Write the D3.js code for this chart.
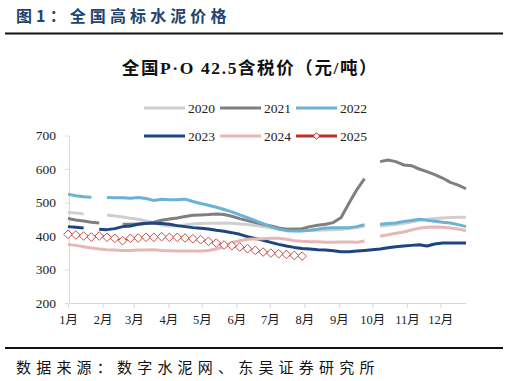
<!DOCTYPE html>
<html><head><meta charset="utf-8">
<script src="https://cdn.jsdelivr.net/npm/d3@7"></script>
<style>
html,body{margin:0;padding:0;background:#fff;}
svg{display:block;}
</style></head>
<body>
<svg id="c" width="509" height="381"></svg>
<script>
// ---- data ----
const months = ["1月","2月","3月","4月","5月","6月","7月","8月","9月","10月","11月","12月"];
const monthStartDays = [0,31,59,90,120,151,181,212,243,273,304,334];
const yTicks = [200,300,400,500,600,700];
const years = ["2020","2021","2022","2023","2024","2025"];
const s2020 = [470,469,466,null,null,463,460,457,453,450,445,440,433,430,430,433,436,437,438,438,439,438,436,434,431,428,424,422,420,418,417,417,417,418,419,420,422,425,430,null,430,432,434,438,442,447,450,452,454,455,456,456];
const s2021 = [452,448,445,441,439,null,null,435,435,436,437,441,447,451,454,458,462,463,464,466,464,459,452,446,440,435,430,424,420,421,422,428,432,435,440,455,498,538,571,null,622,627,622,612,610,600,592,583,573,560,552,541];
const s2022 = [525,520,517,516,null,515,514,514,513,515,512,506,510,508,508,510,503,497,492,486,479,472,463,455,446,437,428,420,416,415,415,417,420,424,425,425,425,428,434,null,435,437,439,443,446,450,447,444,441,439,434,428];
const s2023 = [428,426,424,null,420,419,422,428,430,435,438,438,437,435,431,428,425,423,421,417,414,410,405,398,393,387,381,375,370,366,363,361,359,358,356,353,353,355,357,359,361,365,368,370,372,374,370,376,379,379,379,379];
const s2024 = [375,372,368,364,361,359,358,357,357,358,358,359,357,356,355,355,355,355,357,361,368,380,386,390,391,392,393,393,390,386,384,383,383,381,381,382,382,381,385,null,399,404,408,412,418,423,426,427,426,424,421,416];
const s2025 = [405,403,400,397,400,396,393,386,393,394,396,396,398,396,396,394,392,389,384,379,373,371,367,362,357,352,349,347,345,342,340];
const seriesValues = [s2020,s2021,s2022,s2023,s2024,s2025];
const colors = ["#CFCFCF","#7F7F7F","#6CB2D4","#1F4580","#E7B7B6","#C0302A"];

const svg = d3.select("#c");
const serif = "'Liberation Serif','Times New Roman','Noto Sans CJK SC',serif";
const cjk = "'Noto Sans CJK SC','Liberation Serif',sans-serif";

// heading
svg.append("text").attr("x",16).attr("y",22)
  .attr("font-family",cjk).attr("font-weight","bold").attr("font-size",16)
  .attr("fill","#23446E").attr("letter-spacing",4.1)
  .text("图1：全国高标水泥价格");
svg.append("line").attr("x1",5).attr("x2",503).attr("y1",33.5).attr("y2",33.5)
  .attr("stroke","#111").attr("stroke-width",2);
svg.append("line").attr("x1",5).attr("x2",503).attr("y1",348).attr("y2",348)
  .attr("stroke","#111").attr("stroke-width",2);
svg.append("text").attr("x",16).attr("y",373)
  .attr("font-family",cjk).attr("font-size",15).attr("fill","#111")
  .attr("letter-spacing",5.2)
  .text("数据来源：数字水泥网、东吴证券研究所");

// chart title
svg.append("text").attr("x",250).attr("y",74).attr("text-anchor","middle")
  .attr("font-family",serif).attr("font-weight","bold").attr("font-size",17.5).attr("fill","#111")
  .attr("letter-spacing",1.6)
  .text("全国P·O 42.5含税价（元/吨）");

// scales
const x = d3.scaleLinear().domain([0,357]).range([68,466]);
const y = d3.scaleLinear().domain([200,700]).range([303,135.5]);

// axes
const gx = svg.append("g").attr("transform","translate(0,303)")
  .call(d3.axisBottom(x).tickValues(monthStartDays).tickSize(5).tickSizeOuter(0)
    .tickFormat((d,i)=>months[i]));
gx.select(".domain").attr("stroke","#D9D9D9");
gx.selectAll(".tick line").attr("stroke","#D9D9D9");
gx.selectAll(".tick text").attr("font-family",serif).attr("font-size",12.5).attr("fill","#222").attr("dy","1.05em");

const gy = svg.append("g").attr("transform","translate(69,0)")
  .call(d3.axisLeft(y).tickValues(yTicks).tickSize(4).tickSizeOuter(0));
gy.select(".domain").attr("stroke","#D9D9D9");
gy.selectAll(".tick line").attr("stroke","#D9D9D9");
gy.selectAll(".tick text").attr("font-family",serif).attr("font-size",13.5).attr("fill","#222").attr("x",-13);

// lines
const lw = [3,3,3,3,3,2];
seriesValues.forEach((vals,k)=>{
  svg.append("path").datum(vals).attr("fill","none")
    .attr("stroke",colors[k]).attr("stroke-width",lw[k])
    .attr("stroke-linejoin","round")
    .attr("d", d3.line().defined(d=>d!=null).x((d,i)=>x(i*7)).y(d=>y(d))(vals));
});
// 2025 diamonds
const dia = r => `M0,${-r}L${r},0L0,${r}L${-r},0Z`;
svg.append("g").selectAll("path").data(s2025).join("path")
  .attr("transform",(d,i)=>`translate(${x(i*7)},${y(d)})`)
  .attr("d",dia(4.3)).attr("fill","#fff").attr("stroke","#C8504C").attr("stroke-width",1);

// legend
const legX = [144,220,296];
const legY = [108,136];
years.forEach((yr,k)=>{
  const lx = legX[k%3], ly = legY[Math.floor(k/3)];
  svg.append("line").attr("x1",lx).attr("x2",lx+41).attr("y1",ly).attr("y2",ly)
    .attr("stroke",colors[k]).attr("stroke-width",3);
  if(k===5){
    svg.append("path").attr("transform",`translate(${lx+20.5},${ly})`)
      .attr("d",dia(3.2)).attr("fill","#fff").attr("stroke","#C0302A").attr("stroke-width",1);
  }
  svg.append("text").attr("x",lx+44).attr("y",ly+4.5)
    .attr("font-family",serif).attr("font-size",13.5).attr("fill","#222").text(yr);
});
</script>
</body></html>
